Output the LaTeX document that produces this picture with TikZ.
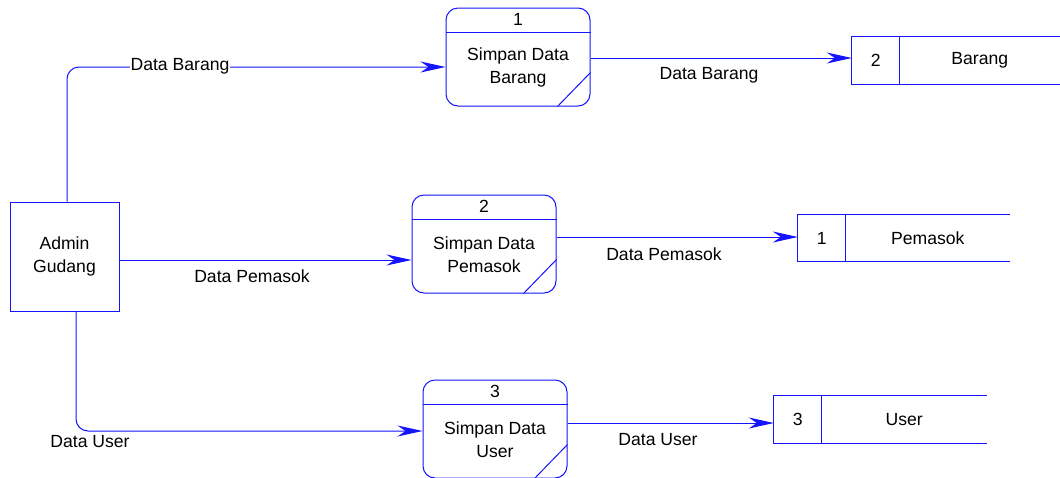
\documentclass[tikz,border=0pt]{standalone}
\usepackage{fontspec}
\setmainfont{Liberation Sans}
\usetikzlibrary{arrows.meta,calc}
\definecolor{dfd}{RGB}{20,20,255}
\tikzset{
  ln/.style={draw=dfd,line width=1pt},
  flow/.style={ln,-{Stealth[length=25pt,width=11pt,inset=8pt]}},
  proc/.style={ln,rounded corners=12pt,minimum width=144pt,minimum height=98pt,inner sep=0pt},
  ext/.style={ln,minimum width=109pt,minimum height=109pt,inner sep=0pt,align=center,font=\fontsize{17.6}{23}\selectfont},
  store/.style={minimum width=#1,minimum height=47pt,inner sep=0pt},
  txt/.style={font=\fontsize{17.6}{23}\selectfont,align=center,inner sep=1pt},
  lbl/.style={font=\fontsize{17.6}{21}\selectfont,inner sep=1pt,fill=white}
}
\begin{document}
\begin{tikzpicture}[x=1pt,y=-1pt]
\useasboundingbox (0,0) rectangle (1060,477);
\fill[white] (0,0) rectangle (1060,477);

% external entity
\node[ext] (admin) at (64.5,256.5) {Admin\\Gudang};

% processes
\node[proc] (p1) at (518,57) {};
\node[proc] (p2) at (484,244) {};
\node[proc] (p3) at (495,429) {};
\foreach \p/\n/\a/\b in {p1/1/Simpan Data/Barang,p2/2/Simpan Data/Pemasok,p3/3/Simpan Data/User}{
  \draw[ln] ($(\p.north west)+(0,25)$) -- ($(\p.north east)+(0,25)$);
  \draw[ln] ($(\p.south east)+(-33,0)$) -- ($(\p.south east)+(0,-34)$);
  \node[txt] (\p n) at ($(\p.north)+(0,11.5)$) {\n};
  \node[txt] (\p t) at ($(\p.center)+(0,10.5)$) {\a\\\b};
}

% data stores
\node[store=208pt] (s1) at (956,60.5) {};
\node[store=212pt] (s2) at (904,238) {};
\node[store=213pt] (s3) at (880.5,419.5) {};
\foreach \s/\n/\t in {s1/2/Barang,s2/1/Pemasok,s3/3/User}{
  \draw[ln] (\s.north east) -- (\s.north west) -- (\s.south west) -- (\s.south east);
  \draw[ln] ($(\s.north west)+(47.5,0)$) coordinate (\s d) -- ($(\s.south west)+(47.5,0)$);
  \node[txt] (\s n) at ($(\s.west)+(24,0)$) {\n};
  \node[txt] (\s t) at ($(\s d)!0.5!(\s.north east)+(0,23.5)$) {\t};
}

% flows from admin
\draw[flow,rounded corners=12pt] ($(admin.north)+(2.5,0)$) |- ($(p1.west)+(0,10)$);
\draw[flow] ($(admin.east)+(0,3.5)$) -- ($(p2.west)+(0,16)$);
\draw[flow,rounded corners=12pt] ($(admin.south)+(11.5,0)$) |- ($(p3.west)+(0,2)$);
\node[lbl] (l1) at (180,66) {Data Barang};
\node[lbl] (l2) at (252,276) {Data Pemasok};
\node[lbl] (l3) at (90,442) {Data User};

% flows to stores
\draw[flow] ($(p1.east)+(0,1)$) -- (s1.west |- 0,58);
\draw[flow] ($(p2.east)+(0,-7)$) -- (s2.west |- 0,237);
\draw[flow] ($(p3.east)+(0,-6)$) -- (s3.west |- 0,423);
\node[lbl] (l4) at (709,75) {Data Barang};
\node[lbl] (l5) at (664,254) {Data Pemasok};
\node[lbl] (l6) at (658,440) {Data User};
\end{tikzpicture}
\end{document}
